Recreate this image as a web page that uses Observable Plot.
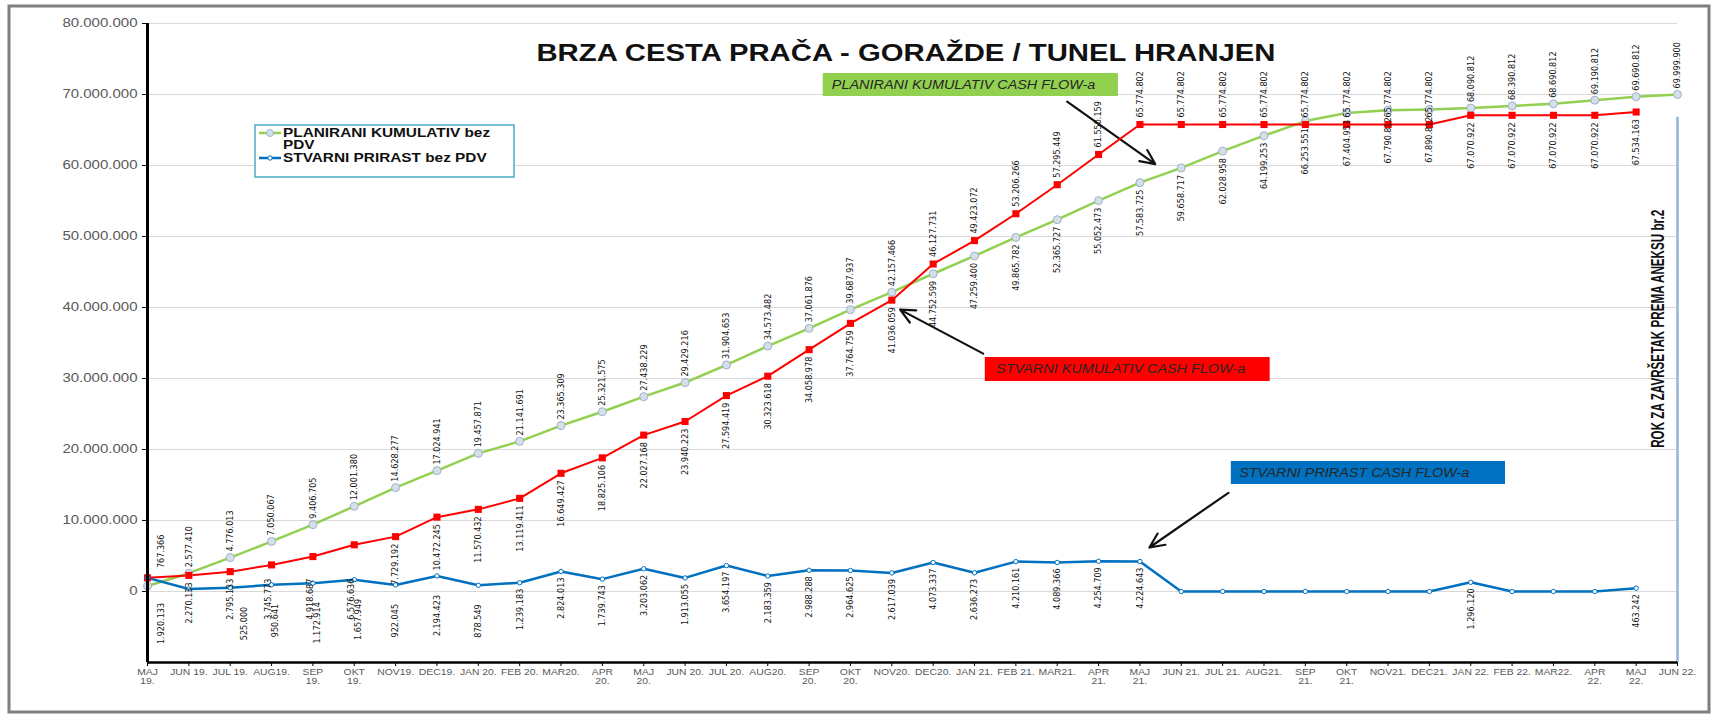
<!DOCTYPE html>
<html><head><meta charset="utf-8">
<script src="https://cdn.jsdelivr.net/npm/d3@7"></script>
<script src="https://cdn.jsdelivr.net/npm/@observablehq/plot@0.6"></script>
<style>body{margin:0;background:#fff;overflow:hidden}</style>
</head><body><div id="chart"></div>
<script>
// ---- data ----
const months = ["MAJ\n19.","JUN 19.","JUL 19.","AUG19.","SEP\n19.","OKT\n19.","NOV19.","DEC19.","JAN 20.","FEB 20.","MAR20.","APR\n20.","MAJ\n20.","JUN 20.","JUL 20.","AUG20.","SEP\n20.","OKT\n20.","NOV20.","DEC20.","JAN 21.","FEB 21.","MAR21.","APR\n21.","MAJ\n21.","JUN 21.","JUL 21.","AUG21.","SEP\n21.","OKT\n21.","NOV21.","DEC21.","JAN 22.","FEB 22.","MAR22.","APR\n22.","MAJ\n22.","JUN 22."];
const planned = [767366,2577410,4776013,7050067,9406705,12001380,14628277,17024941,19457871,21141691,23365309,25321575,27438229,29429216,31904653,34573482,37061876,39687937,42157466,44752599,47259400,49865782,52365727,55052473,57583725,59658717,62028958,64199253,66253551,67404953,67790812,67890812,68090812,68390812,68690812,69190812,69690812,69999900];
const actualCum = [1920133,2270133,2795133,3745773,4918687,6576636,7729192,10472245,11570432,13119411,16649427,18825106,22027168,23940223,27594419,30323618,34058978,37764759,41036059,46127731,49423072,53206266,57295449,61550159,65774802,65774802,65774802,65774802,65774802,65774802,65774802,65774802,67070922,67070922,67070922,67070922,67534163,null];
const actualInc = [1920133,350000,525000,950641,1172914,1657949,922045,2194423,878549,1239183,2824013,1739743,3203062,1913055,3654197,2183359,2988288,2964625,2617039,4073337,2636273,4210161,4089366,4254709,4224643,0,0,0,0,0,0,0,1296120,0,0,0,463242,null];
const yTicks = [0,10000000,20000000,30000000,40000000,50000000,60000000,70000000,80000000];
const gridLines = [-10000000,0,10000000,20000000,30000000,40000000,50000000,60000000,70000000,80000000];
const titleText = "BRZA CESTA PRAČA - GORAŽDE / TUNEL HRANJEN";
const legendItems = ["PLANIRANI KUMULATIV bez\nPDV", "STVARNI PRIRAST bez PDV"];
const noteText = "ROK ZA ZAVRŠETAK PREMA ANEKSU br.2";
const boxLabels = ["PLANIRANI KUMULATIV CASH FLOW-a", "STVARNI KUMULATIV CASH FLOW-a", "STVARNI PRIRAST CASH FLOW-a"];

// ---- layout (annotation placement in data coordinates: month index, value) ----
const M = 1e6;
const boxes = [
  {x1:16.34, x2:23.48, y1:69.72*M, y2:72.96*M, tx:16.55, ty:71.34*M, fill:"#92d050", label:boxLabels[0]},
  {x1:20.26, x2:27.15, y1:29.58*M, y2:32.96*M, tx:20.52, ty:31.27*M, fill:"#ff0000", label:boxLabels[1]},
  {x1:26.21, x2:32.84, y1:15.07*M, y2:18.31*M, tx:26.40, ty:16.69*M, fill:"#0070c0", label:boxLabels[2]}
];
const arrows = [
  {x1:22.24, y1:69.0*M, x2:24.37, y2:60.2*M},
  {x1:20.21, y1:33.5*M, x2:18.20, y2:39.7*M},
  {x1:26.14, y1:13.9*M, x2:24.23, y2:6.2*M}
];

const fmt = v => d3.format(",")(v).replace(/,/g, ".");
const rows = months.map((m, i) => ({i, month: m, plan: planned[i], cum: actualCum[i], inc: actualInc[i]}));
const cumRows = rows.filter(d => d.cum != null);
const incRows = rows.filter(d => d.inc != null);
const redOnTop = i => i >= 19 && i <= 31;
const lab = {fontSize: 9, fontFamily: "'Liberation Sans Narrow','DejaVu Sans Condensed',sans-serif", fill: "#111", rotate: -90, lineAnchor: "middle"};
// label tweaks for the crowded first months (as in the original)
const redLabY = d => (d.i >= 2 && d.i <= 5) ? Math.min(d.cum, 2.8*M) : d.cum;
const blueDy = d => (d.i >= 2 && d.i <= 8) ? 19 : 6;
const blueDx = d => d.i === 2 ? 14 : (d.i >= 3 && d.i <= 5 ? 4 : 0);
const redDx = d => (d.i >= 3 && d.i <= 5) ? -3 : 0;

const plot = Plot.plot({
  width: 1716, height: 717,
  marginLeft: 147, marginRight: 39, marginTop: 23, marginBottom: 55,
  x: {type: "linear", domain: [0, 37]},
  y: {domain: [-10*M, 80*M]},
  style: {fontFamily: "'Liberation Sans', Arial, sans-serif", background: "white", overflow: "visible"},
  marks: [
    Plot.ruleY(gridLines, {stroke: "#d9d9d9", strokeWidth: 1.2}),
    Plot.ruleX([37], {y1: -10*M, y2: 66.8*M, stroke: "#95b3d7", strokeWidth: 2.5}),
    Plot.text([{x: 36.54, y: 37.0*M}], {x: "x", y: "y", text: () => noteText, rotate: -90, fontSize: 18, fontWeight: "bold", fill: "#111", ariaDescription: "note"}),
    ...boxes.map(b => Plot.rect([b], {x1: "x1", x2: "x2", y1: "y1", y2: "y2", fill: b.fill})),
    Plot.text(boxes, {x: "tx", y: "ty", text: "label", textAnchor: "start", fontSize: 12, fontStyle: "italic", fill: "#262626", ariaDescription: "boxtext"}),
    Plot.arrow(arrows, {x1: "x1", y1: "y1", x2: "x2", y2: "y2", stroke: "#111", strokeWidth: 2.2, headLength: 11, headAngle: 50}),
    Plot.line(rows, {x: "i", y: "plan", stroke: "#92d050", strokeWidth: 2.5}),
    Plot.line(cumRows, {x: "i", y: "cum", stroke: "#ff0000", strokeWidth: 2}),
    Plot.line(incRows, {x: "i", y: "inc", stroke: "#0070c0", strokeWidth: 2.5}),
    Plot.dot(rows, {x: "i", y: "plan", r: 4, fill: "#d5dfea", stroke: "#9db2c6", strokeWidth: 1}),
    Plot.dot(cumRows, {x: "i", y: "cum", symbol: "square", r: 4, fill: "#ff0000"}),
    Plot.dot(incRows, {x: "i", y: "inc", r: 2.2, fill: "white", stroke: "#0070c0", strokeWidth: 1}),
    // planned labels
    Plot.text(rows.filter(d => d.i === 0), {x: "i", y: "plan", text: d => fmt(d.plan), textAnchor: "start", dy: -18, dx: 14, ...lab}),
    Plot.text(rows.filter(d => d.i > 0 && !redOnTop(d.i)), {x: "i", y: "plan", text: d => fmt(d.plan), textAnchor: "start", dy: -6, ...lab}),
    Plot.text(rows.filter(d => redOnTop(d.i)), {x: "i", y: "plan", text: d => fmt(d.plan), textAnchor: "end", dy: 7, ...lab}),
    // actual cumulative labels
    Plot.text(cumRows.filter(d => d.i === 0), {x: "i", y: "cum", text: d => fmt(d.cum), textAnchor: "end", dy: 25, dx: 14, ...lab}),
    ...cumRows.filter(d => d.i > 0 && !redOnTop(d.i)).map(d =>
      Plot.text([d], {x: "i", y: redLabY, text: d => fmt(d.cum), textAnchor: "end", dy: 7, dx: redDx(d), ...lab})),
    Plot.text(cumRows.filter(d => redOnTop(d.i)), {x: "i", y: "cum", text: d => fmt(d.cum), textAnchor: "start", dy: -7, ...lab}),
    // increment labels
    ...incRows.filter(d => d.i >= 2 && d.inc > 0).map(d =>
      Plot.text([d], {x: "i", y: "inc", text: d => fmt(d.inc), textAnchor: "end", dy: blueDy(d), dx: blueDx(d), ...lab})),
    Plot.axisY({ticks: yTicks, tickFormat: fmt, tickSize: 5, tickPadding: 5, fontSize: 12, stroke: "#000", fill: "#595959", label: null}),
    Plot.axisX({ticks: d3.range(0, 38), tickFormat: i => months[i], tickSize: 4, tickPadding: 2, fontSize: 9, stroke: "#000", fill: "#595959", label: null}),
    Plot.ruleX([0], {stroke: "#000", strokeWidth: 3}),
    Plot.ruleY([-10*M], {stroke: "#000", strokeWidth: 2.5})
  ]
});
document.getElementById("chart").appendChild(plot);

function stretch(sel, k) {
  sel.each(function() {
    const spans = this.querySelectorAll("tspan");
    const targets = spans.length ? Array.from(spans) : [this];
    for (const t of targets) {
      const L = t.getComputedTextLength();
      if (L > 0) { t.setAttribute("textLength", L * k); t.setAttribute("lengthAdjust", "spacingAndGlyphs"); }
    }
  });
}
function fitTo(sel, len) {
  sel.each(function() { this.setAttribute("textLength", len); this.setAttribute("lengthAdjust", "spacingAndGlyphs"); });
}

const svg = d3.select(plot);
stretch(svg.selectAll('g[aria-label="y-axis tick label"] text'), 1.25);
stretch(svg.selectAll('g[aria-label="x-axis tick label"] text'), 1.15);
stretch(svg.selectAll('g[aria-description="boxtext"] text'), 1.2);
fitTo(svg.selectAll('g[aria-description="note"] text'), 238);

// title
const t = svg.append("text").attr("x", 906).attr("y", 61).attr("text-anchor", "middle")
  .attr("font-size", 24).attr("font-weight", "bold").attr("fill", "#111").text(titleText);
stretch(t, 1.22);

// legend
const lg = svg.append("g").attr("text-anchor", "start");
lg.append("rect").attr("x", 255).attr("y", 125).attr("width", 259).attr("height", 52)
  .attr("fill", "white").attr("stroke", "#4bacc6").attr("stroke-width", 1.5);
const lgColors = ["#92d050", "#0070c0"];
const lgY = [133, 158];
legendItems.forEach((txt, k) => {
  lg.append("line").attr("x1", 259).attr("x2", 281).attr("y1", lgY[k]).attr("y2", lgY[k])
    .attr("stroke", lgColors[k]).attr("stroke-width", 2.5);
  if (k === 0) lg.append("circle").attr("cx", 270).attr("cy", lgY[k]).attr("r", 3.5).attr("fill", "#d5dfea").attr("stroke", "#9db2c6");
  else lg.append("circle").attr("cx", 270).attr("cy", lgY[k]).attr("r", 2.2).attr("fill", "white").attr("stroke", "#0070c0");
  txt.split("\n").forEach((line, j) => {
    const tt = lg.append("text").attr("x", 283).attr("y", lgY[k] + 4 + j * 12).attr("text-anchor", "start")
      .attr("font-size", 12).attr("font-weight", "bold").attr("fill", "#111").text(line);
    stretch(tt, 1.28);
  });
});

// frame
svg.append("rect").attr("x", 9).attr("y", 6).attr("width", 1700).attr("height", 706)
  .attr("fill", "none").attr("stroke", "#7f7f7f").attr("stroke-width", 3);
</script>
</body></html>
